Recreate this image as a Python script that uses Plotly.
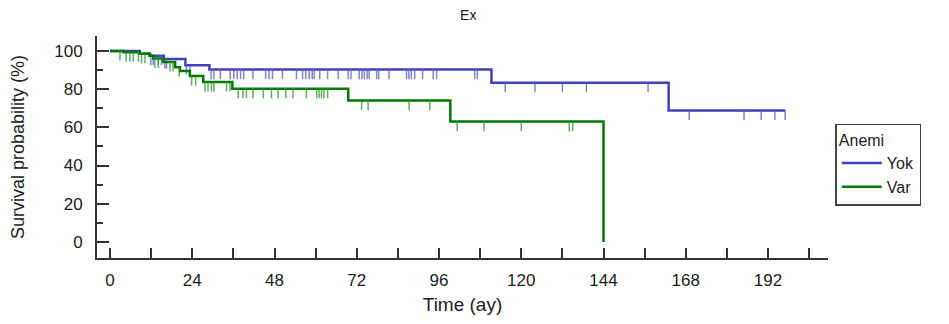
import numpy as np
import plotly.graph_objects as go

# ---- data (months, survival %) ----
yok_event_t = [0, 8.7, 11.7, 15.7, 22.0, 29.0, 111.3, 163.0, 197.0]
yok_event_s = [100, 98.5, 97.5, 95.8, 92.5, 90.2, 83.3, 68.8, 68.8]
yok_censor_t = [11.9, 12.6, 14.1, 15.0, 16.0, 16.5, 22.3, 23.3, 29.5, 30.3, 32.2, 35.1,
                36.1, 37.1, 38.1, 39.0, 41.7, 45.4, 46.4, 47.4, 50.3, 54.4, 56.2, 57.1,
                58.1, 59.0, 59.6, 61.2, 63.5, 66.6, 69.5, 70.3, 72.7, 73.5, 74.2, 75.0,
                75.6, 77.8, 78.4, 81.4, 86.5, 87.2, 87.9, 88.9, 91.2, 94.3, 95.3, 106.4,
                107.2, 115.3, 124.0, 132.0, 139.0, 157.0, 169.0, 185.0, 190.0, 194.0, 197.0]

var_event_t = [0, 3.9, 8.7, 11.5, 12.6, 15.5, 19.0, 20.4, 23.3, 27.2, 35.7, 69.5, 99.3, 144.0]
var_event_s = [100, 99.3, 98.5, 97.5, 96.0, 94.2, 91.5, 89.5, 86.8, 83.7, 80.2, 74.0, 63.0, 0]
var_censor_t = [2.9, 4.7, 5.8, 6.8, 8.3, 9.2, 10.2, 13.1, 14.1, 17.5, 18.4, 20.2, 23.8,
                25.0, 27.7, 28.6, 29.6, 30.3, 34.0, 35.0, 37.4, 38.8, 39.8, 41.7, 44.7,
                47.1, 49.0, 51.3, 53.4, 57.3, 60.3, 61.0, 61.7, 62.4, 63.5, 73.4, 75.3,
                87.3, 93.3, 101.3, 109.1, 120.0, 134.0, 135.0]

x_tick_vals = [0, 24, 48, 72, 96, 120, 144, 168, 192]
y_tick_vals = [0, 20, 40, 60, 80, 100]

BLUE = "rgb(64,64,184)"
BLUE_L = "rgba(90,90,205,0.75)"
GREEN = "rgb(0,120,0)"
GREEN_L = "rgba(40,150,40,0.75)"


def step_value(ev_t, ev_s, t):
    idx = np.searchsorted(np.array(ev_t), np.array(t), side="right") - 1
    return np.array(ev_s)[idx]


fig = go.Figure()

for name, et, es, ct, col, coll in [
    ("Yok", yok_event_t, yok_event_s, yok_censor_t, BLUE, BLUE_L),
    ("Var", var_event_t, var_event_s, var_censor_t, GREEN, GREEN_L),
]:
    fig.add_trace(go.Scatter(x=et, y=es, mode="lines", name=name,
                             line=dict(color=col, width=2.5, shape="hv")))
    cy = step_value(et, es, ct)
    fig.add_trace(go.Scatter(
        x=ct, y=cy, mode="markers", showlegend=False, hoverinfo="skip",
        marker=dict(size=1, color=coll),
        error_y=dict(type="data", symmetric=False, array=[0] * len(ct),
                     arrayminus=[5] * len(ct), width=0, thickness=1.5, color=coll)))

fig.update_layout(
    width=949, height=324,
    margin=dict(l=89, r=129, t=28, b=74),
    paper_bgcolor="white", plot_bgcolor="white",
    font=dict(family="Liberation Sans, Arial", size=16, color="#222"),
    title=dict(text="Ex", x=0.485, xanchor="center", y=0.978, yanchor="middle",
               font=dict(size=14, color="#222")),
    legend=dict(title=dict(text="Anemi", font=dict(size=16)),
                x=1.01, xanchor="left", y=0.605, yanchor="top",
                bordercolor="#444", borderwidth=1.5, bgcolor="white",
                font=dict(size=16), itemwidth=40, tracegroupgap=0),
    showlegend=True,
)
fig.update_xaxes(range=[-3.8, 209.5], tickvals=x_tick_vals, ticks="inside", ticklen=10,
                 tickwidth=1.5, tickcolor="#333", showline=True, linecolor="#333",
                 linewidth=2, showgrid=False, zeroline=False, automargin=False,
                 minor=dict(dtick=12, tick0=0, ticks="inside", ticklen=10, tickwidth=1.5,
                            tickcolor="#333", showgrid=False),
                 tickfont=dict(size=17),
                 title=dict(text="Time (ay)", standoff=8, font=dict(size=19)),
                 ticklabelstandoff=6)
fig.update_yaxes(range=[-8.4, 107.8], tickvals=y_tick_vals, ticks="inside", ticklen=12,
                 tickwidth=1.5, tickcolor="#333", showline=True, linecolor="#333",
                 linewidth=2, showgrid=False, zeroline=False, automargin=False,
                 minor=dict(dtick=10, tick0=0, ticks="inside", ticklen=6, tickwidth=1.5,
                            tickcolor="#333", showgrid=False),
                 tickfont=dict(size=17), ticklabelstandoff=9,
                 title=dict(text="Survival probability (%)", standoff=30, font=dict(size=18)))

fig.write_html("out.html")
